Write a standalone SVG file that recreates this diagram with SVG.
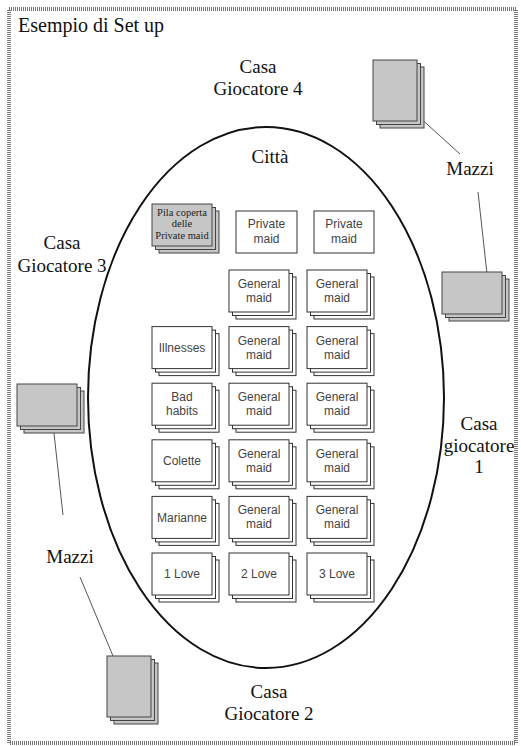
<svg xmlns="http://www.w3.org/2000/svg" xmlns:xlink="http://www.w3.org/1999/xlink" width="521" height="746" viewBox="0 0 521 746">
<style>
.frame{fill:none;stroke:#777;stroke-width:4;stroke-dasharray:1 1}
.city{fill:none;stroke:#111;stroke-width:2}
.card{fill:#fff;stroke:#333;stroke-width:1}
.gcard{fill:#c6c6c6;stroke:#444;stroke-width:1}
.conn{stroke:#555;stroke-width:1;fill:none}
.lbl{font-family:"Liberation Serif","Times New Roman",serif;font-size:19px;fill:#111;text-anchor:middle}
.ct{font-family:"Liberation Sans",Arial,sans-serif;font-size:12px;fill:#444;text-anchor:middle}
.pt{font-family:"Liberation Serif","Times New Roman",serif;font-size:10.5px;fill:#222;text-anchor:middle}
</style>
<defs>
<g id="stack">
<rect class="card" x="7" y="7" width="60" height="42"/>
<rect class="card" x="3.5" y="3.5" width="60" height="42"/>
<rect class="card" x="0" y="0" width="60" height="42"/>
</g>
<g id="gstackL">
<rect class="gcard" x="7" y="7" width="60" height="42"/>
<rect class="gcard" x="3.5" y="3.5" width="60" height="42"/>
<rect class="gcard" x="0" y="0" width="60" height="42"/>
</g>
<g id="gstackP">
<rect class="gcard" x="7" y="7" width="44" height="61"/>
<rect class="gcard" x="3.5" y="3.5" width="44" height="61"/>
<rect class="gcard" x="0" y="0" width="44" height="61"/>
</g>
</defs>
<rect x="0" y="0" width="521" height="746" fill="#fff"/>
<rect class="frame" x="9" y="9" width="507" height="734"/>
<text x="18" y="32" font-family="Liberation Serif, Times New Roman, serif" font-size="20" fill="#111">Esempio di Set up</text>

<g id="city">
<ellipse class="city" cx="266" cy="397.5" rx="178" ry="270.5"/>
<text class="lbl" x="270" y="163" font-size="21">Città</text>
</g>

<g id="casa4"><text class="lbl" x="258" y="73">Casa</text><text class="lbl" x="258" y="95">Giocatore 4</text></g>
<g id="casa3"><text class="lbl" x="62" y="249">Casa</text><text class="lbl" x="62" y="272">Giocatore 3</text></g>
<g id="casa1"><text class="lbl" x="479" y="430">Casa</text><text class="lbl" x="479" y="452">giocatore</text><text class="lbl" x="479" y="473">1</text></g>
<g id="casa2"><text class="lbl" x="269" y="698">Casa</text><text class="lbl" x="269" y="720">Giocatore 2</text></g>

<g id="connectors">
<line class="conn" x1="397" y1="97" x2="460" y2="154"/>
<line class="conn" x1="478" y1="192" x2="488" y2="283"/>
<line class="conn" x1="52" y1="415" x2="63" y2="515"/>
<line class="conn" x1="80" y1="577" x2="123" y2="680"/>
</g>

<g id="deck-top"><use xlink:href="#gstackP" x="373" y="60"/></g>
<g id="deck-right"><use xlink:href="#gstackL" x="442" y="272"/></g>
<g id="deck-left"><use xlink:href="#gstackL" x="17" y="384"/></g>
<g id="deck-bottom"><use xlink:href="#gstackP" x="107" y="656"/></g>
<g id="mazzi-right"><text class="lbl" x="470" y="175" font-size="20">Mazzi</text></g>
<g id="mazzi-left"><text class="lbl" x="70" y="563" font-size="20">Mazzi</text></g>

<g id="pila">
<use xlink:href="#gstackL" x="152" y="204"/>
<text class="pt" x="182" y="216">Pila coperta</text>
<text class="pt" x="182" y="227">delle</text>
<text class="pt" x="182" y="239">Private maid</text>
</g>
<g id="private1"><rect class="card" x="236" y="211" width="61" height="42"/><text class="ct" x="266.5" y="228">Private</text><text class="ct" x="266.5" y="243">maid</text></g>
<g id="private2"><rect class="card" x="314" y="211" width="60" height="42"/><text class="ct" x="344" y="228">Private</text><text class="ct" x="344" y="243">maid</text></g>

<g id="gm1a"><use xlink:href="#stack" x="229" y="270"/><text class="ct" x="259" y="288">General</text><text class="ct" x="259" y="302">maid</text></g>
<g id="gm1b"><use xlink:href="#stack" x="307" y="270"/><text class="ct" x="337" y="288">General</text><text class="ct" x="337" y="302">maid</text></g>

<g id="illnesses"><use xlink:href="#stack" x="152" y="326.6"/><text class="ct" x="182" y="352">Illnesses</text></g>
<g id="gm2a"><use xlink:href="#stack" x="229" y="326.6"/><text class="ct" x="259" y="345">General</text><text class="ct" x="259" y="359">maid</text></g>
<g id="gm2b"><use xlink:href="#stack" x="307" y="326.6"/><text class="ct" x="337" y="345">General</text><text class="ct" x="337" y="359">maid</text></g>

<g id="badhabits"><use xlink:href="#stack" x="152" y="383.2"/><text class="ct" x="182" y="401">Bad</text><text class="ct" x="182" y="415">habits</text></g>
<g id="gm3a"><use xlink:href="#stack" x="229" y="383.2"/><text class="ct" x="259" y="401">General</text><text class="ct" x="259" y="415">maid</text></g>
<g id="gm3b"><use xlink:href="#stack" x="307" y="383.2"/><text class="ct" x="337" y="401">General</text><text class="ct" x="337" y="415">maid</text></g>

<g id="colette"><use xlink:href="#stack" x="152" y="439.8"/><text class="ct" x="182" y="465">Colette</text></g>
<g id="gm4a"><use xlink:href="#stack" x="229" y="439.8"/><text class="ct" x="259" y="458">General</text><text class="ct" x="259" y="472">maid</text></g>
<g id="gm4b"><use xlink:href="#stack" x="307" y="439.8"/><text class="ct" x="337" y="458">General</text><text class="ct" x="337" y="472">maid</text></g>

<g id="marianne"><use xlink:href="#stack" x="152" y="496.4"/><text class="ct" x="182" y="522">Marianne</text></g>
<g id="gm5a"><use xlink:href="#stack" x="229" y="496.4"/><text class="ct" x="259" y="514">General</text><text class="ct" x="259" y="528">maid</text></g>
<g id="gm5b"><use xlink:href="#stack" x="307" y="496.4"/><text class="ct" x="337" y="514">General</text><text class="ct" x="337" y="528">maid</text></g>

<g id="love1"><use xlink:href="#stack" x="152" y="553"/><text class="ct" x="182" y="578">1 Love</text></g>
<g id="love2"><use xlink:href="#stack" x="229" y="553"/><text class="ct" x="259" y="578">2 Love</text></g>
<g id="love3"><use xlink:href="#stack" x="307" y="553"/><text class="ct" x="337" y="578">3 Love</text></g>
</svg>
